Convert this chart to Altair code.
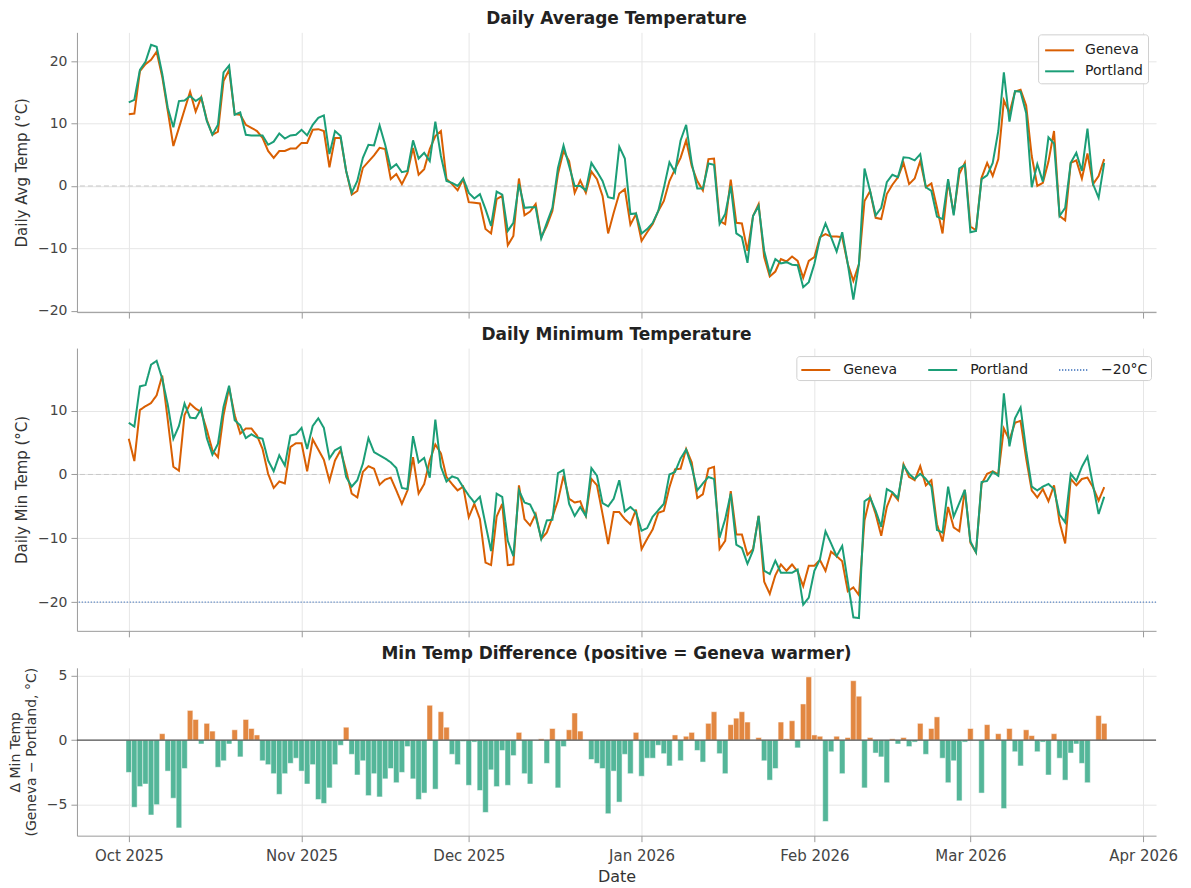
import altair as alt
import pandas as pd

# ---------------- data ----------------
start_date = "2025-10-01"

geneva_avg = [
    11.5, 11.6, 18.4, 19.5, 20.2, 21.5, 17.5, 12.0, 6.4, 9.3,
    12.2, 15.1, 11.9, 14.2, 10.6, 8.2, 8.7, 16.8, 18.6, 11.5,
    11.4, 9.8, 9.3, 8.8, 7.7, 5.6, 4.5, 5.6, 5.6, 6.0,
    6.0, 6.9, 6.9, 9.0, 9.1, 8.8, 3.0, 7.7, 7.7, 2.4,
    -1.4, -0.8, 2.9, 3.9, 4.9, 6.1, 5.9, 1.1, 1.9, 0.3,
    2.1, 6.1, 1.8, 2.7, 5.9, 8.0, 8.8, 1.1, 0.3, -0.7,
    1.1, -2.6, -2.7, -2.8, -6.9, -7.6, -2.1, -1.6, -9.5, -8.0,
    1.2, -4.7, -4.1, -2.9, -8.2, -6.4, -4.0, 1.9, 5.6, 4.0,
    -1.1, 0.9, -1.1, 2.3, 1.1, -1.6, -7.6, -4.3, -1.2, -0.5,
    -6.2, -4.5, -8.8, -7.4, -6.1, -4.0, -2.4, 0.8, 2.7, 4.5,
    7.3, 3.2, 0.8, -0.7, 4.3, 4.4, -5.6, -6.1, 1.0, -5.9,
    -6.0, -10.4, -4.8, -2.9, -11.4, -14.5, -13.7, -11.7, -12.1, -11.3,
    -12.0, -14.7, -12.0, -11.4, -8.2, -7.7, -8.1, -8.1, -8.2, -12.5,
    -15.2, -12.5, -2.4, -0.8, -5.1, -5.3, -1.3, 0.2, 1.4, 3.7,
    0.3, 1.2, 4.0, -0.2, 0.4, -3.5, -7.6, 0.8, -4.4, 1.9,
    3.7, -6.5, -7.1, 1.3, 3.7, 1.6, 4.3, 13.7, 11.7, 15.1,
    15.4, 12.9, 4.8, 0.0, 0.5, 3.9, 8.8, -4.8, -5.5, 3.7,
    4.1, 1.2, 5.2, 0.3, 1.6, 4.3,
]

portland_avg = [
    13.4, 13.8, 18.6, 19.9, 22.6, 22.3, 18.0, 12.5, 9.4, 13.6,
    13.7, 14.4, 13.6, 14.2, 10.4, 8.2, 9.8, 18.2, 19.3, 11.4,
    11.8, 8.2, 8.1, 8.1, 8.1, 6.6, 7.1, 8.4, 7.6, 8.1,
    8.2, 9.0, 8.1, 9.8, 10.9, 11.3, 5.1, 8.8, 8.0, 2.4,
    -1.1, 0.8, 4.5, 6.6, 6.5, 9.7, 6.6, 2.8, 3.5, 2.2,
    2.4, 7.3, 4.4, 5.3, 4.0, 10.3, 4.8, 0.8, 0.5, 0.0,
    1.2, -1.1, -2.0, -1.3, -3.7, -6.4, -0.9, -1.4, -7.2, -5.9,
    0.3, -3.5, -3.4, -3.4, -8.4, -5.9, -3.5, 2.9, 6.5, 3.2,
    0.0, 0.0, -0.7, 3.7, 2.3, 0.8, -1.8, -2.0, 6.3, 4.4,
    -4.5, -4.4, -7.6, -6.9, -5.9, -4.0, -0.3, 3.8, 2.2, 7.3,
    9.8, 3.7, -0.4, -0.4, 3.6, 3.4, -6.1, -4.5, 0.0, -7.6,
    -8.2, -12.3, -4.8, -3.2, -10.4, -14.0, -11.7, -12.4, -12.2, -12.6,
    -12.7, -16.2, -15.4, -12.5, -8.4, -6.0, -8.2, -10.5, -7.4, -12.5,
    -18.2, -12.5, 2.8, -0.8, -4.7, -3.5, 0.6, 1.8, 1.4, 4.6,
    4.5, 4.1, 5.1, -0.2, -0.8, -4.9, -5.3, 1.1, -4.7, 2.8,
    3.4, -7.4, -7.2, 1.1, 1.7, 3.7, 8.8, 18.2, 10.3, 15.2,
    15.1, 11.7, -0.2, 3.5, 0.7, 7.8, 6.8, -4.8, -3.5, 3.7,
    5.3, 2.4, 9.2, 0.3, -1.9, 3.7,
]

geneva_min = [
    5.6, 2.1, 10.1, 10.7, 11.2, 12.4, 15.5, 8.5, 1.2, 0.6,
    9.3, 11.1, 10.3, 9.8, 7.0, 3.8, 2.7, 9.3, 13.6, 9.3,
    6.4, 7.2, 7.2, 6.1, 4.0, 0.1, -2.1, -1.1, -1.4, 4.3,
    4.9, 4.9, 0.5, 5.5, 3.9, 2.3, -1.0, 2.2, 3.8, 0.6,
    -3.0, -3.6, 0.4, 1.3, 0.9, -1.6, -0.8, -0.5, -2.5, -4.6,
    -2.5, 2.7, -3.0, -1.5, 2.2, 4.7, 3.3, -0.4, -1.5, -2.5,
    -1.9, -6.7, -4.6, -7.0, -13.8, -14.2, -6.6, -4.6, -14.2, -14.1,
    -1.7, -7.0, -8.0, -6.2, -10.1, -9.1, -6.7, -4.1, -0.2, -3.8,
    -4.4, -4.2, -6.5, -0.7, -1.7, -6.2, -10.9, -5.9, -5.9, -7.0,
    -7.8, -5.5, -11.7, -10.1, -8.6, -6.0, -5.7, -2.0, 0.8, 0.9,
    4.0, 1.9, -3.7, -3.1, 0.9, 1.2, -11.7, -10.4, -2.6, -9.4,
    -9.4, -12.6, -11.7, -6.5, -16.8, -18.7, -15.8, -14.1, -15.1, -14.1,
    -15.2, -17.5, -14.3, -14.3, -13.4, -15.1, -12.1, -12.8, -13.6, -18.3,
    -17.7, -18.9, -7.2, -3.5, -6.2, -9.6, -5.1, -2.9, -4.0, 1.6,
    -0.4, -0.9, 1.3, -1.7, -0.9, -7.8, -10.5, -5.1, -8.3, -8.9,
    -2.4, -10.7, -12.2, -1.5, 0.1, 0.5, 0.0, 7.2, 5.4, 8.1,
    8.4, 2.5, -2.5, -3.6, -2.3, -4.2, -1.7, -7.5, -10.8, -0.7,
    -1.7, -0.7, -0.5, -2.0, -4.1, -2.0,
]

portland_min = [
    8.1, 7.5, 13.8, 14.0, 17.2, 17.8, 15.0, 10.9, 5.6, 7.6,
    11.1, 8.9, 8.8, 10.3, 5.7, 3.1, 4.8, 10.6, 13.9, 8.5,
    7.7, 5.7, 6.3, 5.8, 5.6, 2.2, 0.5, 3.0, 1.4, 6.1,
    6.3, 7.3, 4.0, 7.6, 8.8, 7.3, 2.5, 3.8, 4.3, -0.4,
    -1.9, -0.9, 1.7, 5.7, 3.5, 3.0, 2.5, 1.9, 1.0, -2.1,
    -2.3, 6.0, 1.9, 2.6, -0.5, 8.6, 1.2, -1.1, -0.3, -0.6,
    -2.0, -3.3, -4.4, -3.5, -7.8, -12.0, -3.0, -3.5, -10.4, -12.8,
    -2.5, -4.4, -4.7, -6.5, -10.1, -7.2, -7.1, 0.2, 0.7, -4.6,
    -6.5, -5.1, -6.5, 1.0, -0.2, -4.5, -5.0, -3.8, -0.9, -5.8,
    -5.1, -5.9, -8.8, -8.4, -6.6, -5.6, -4.6, 0.0, 0.4, 2.5,
    3.9, 1.2, -2.5, -1.4, -0.4, -0.7, -9.9, -7.0, -3.0, -11.0,
    -11.5, -14.0, -11.9, -6.5, -15.1, -15.6, -13.5, -15.4, -15.4, -15.4,
    -14.9, -20.4, -19.3, -15.1, -13.3, -8.9, -10.8, -12.8, -11.2, -16.8,
    -22.4, -22.5, -4.2, -3.6, -5.7, -8.2, -2.3, -2.8, -3.7, 1.4,
    0.1, -0.7, 0.1, -0.7, -1.9, -8.7, -9.1, -1.9, -6.6, -4.5,
    -2.4, -10.5, -12.2, -1.2, -1.0, 0.4, -0.2, 12.7, 4.4, 8.8,
    10.5, 3.8, -1.9, -2.5, -1.9, -1.5, -2.3, -6.3, -7.5, 0.1,
    -1.0, 1.2, 2.8, -1.7, -6.2, -3.5,
]

# Geneva minus Portland daily minimum (bars)
min_diff = [
    -2.5, -5.2, -3.6, -3.4, -5.8, -5.0, 0.5, -2.4, -4.5, -6.8,
    -2.2, 2.3, 1.6, -0.3, 1.3, 0.7, -2.1, -1.6, -0.3, 0.8,
    -1.3, 1.6, 0.9, 0.4, -1.6, -1.9, -2.6, -4.2, -2.6, -1.8,
    -1.4, -2.4, -3.4, -1.9, -4.6, -4.9, -3.7, -1.9, -0.4, 1.0,
    -1.1, -2.7, -1.6, -4.3, -2.6, -4.4, -3.0, -2.2, -3.3, -2.5,
    -0.5, -3.0, -4.6, -4.1, 2.7, -3.8, 2.2, 1.0, -1.1, -1.9,
    -0.1, -3.5, -0.15, -3.9, -5.6, -2.3, -3.6, -0.8, -3.5, -1.2,
    0.6, -2.6, -3.4, 0.0, 0.1, -1.8, 0.9, -3.7, -0.5, 0.8,
    2.1, 0.7, 0.0, -1.5, -1.8, -2.2, -5.7, -2.4, -4.8, -1.1,
    -2.6, 0.6, -2.8, -1.4, -1.4, -0.4, -1.05, -2.0, 0.4, -1.6,
    0.3, 0.6, -0.8, -1.7, 1.3, 2.2, -1.05, -2.6, 1.2, 1.7,
    2.2, 1.4, 0.0, 0.2, -1.6, -3.1, -2.2, 1.4, 0.1, 1.5,
    -0.6, 2.8, 4.9, 0.4, 0.3, -6.3, -0.9, 0.3, -2.6, 0.2,
    4.6, 3.4, -3.7, 0.2, -1.0, -1.3, -3.3, 0.1, -0.3, 0.2,
    -0.5, -0.15, 1.3, -1.1, 0.9, 1.8, -1.4, -3.3, -1.6, -4.7,
    -0.15, 0.9, 0.0, -4.1, 1.2, 0.0, 0.5, -5.3, 0.9, -0.9,
    -2.0, 0.8, 0.35, -0.9, -0.15, -2.7, 0.5, -1.4, -3.1, -1.0,
    -0.3, -1.8, -3.3, 0.0, 1.9, 1.3,
]

cities = ["Geneva", "Portland"]
threshold_label = "\u221220\u00b0C"
threshold_value = -20
month_labels_year_month = [(2025, 10), (2025, 11), (2025, 12), (2026, 1), (2026, 2), (2026, 3), (2026, 4)]

# ---------------- tables ----------------
n = len(geneva_avg)
dates = pd.date_range(start_date, periods=n, freq="D")
fmt = "%Y-%m-%dT%H:%M:%S"
date_str = dates.strftime(fmt).tolist()
bar_start = (dates - pd.Timedelta(hours=12)).strftime(fmt).tolist()
bar_end = (dates + pd.Timedelta(hours=12)).strftime(fmt).tolist()

avg_df = pd.DataFrame({"date": date_str * 2,
                       "city": [cities[0]] * n + [cities[1]] * n,
                       "temp": geneva_avg + portland_avg})
min_df = pd.DataFrame({"date": date_str * 2,
                       "city": [cities[0]] * n + [cities[1]] * n,
                       "temp": geneva_min + portland_min})
diff_df = pd.DataFrame({"start": bar_start, "end": bar_end, "diff": min_diff,
                        "sign": ["pos" if v > 0 else "neg" for v in min_diff]})

ORANGE = "#d95f02"
GREEN = "#1b9e77"
BLUE = "#5a86c5"
W = 1080
FONT = "DejaVu Sans"
LEG_SYMBOL = "M-0.9,0H2"

x_domain = [alt.DateTime(year=2025, month=9, date=21, hours=16, minutes=48),
            alt.DateTime(year=2026, month=4, date=3, hours=7, minutes=12)]
month_ticks = [alt.DateTime(year=y, month=m, date=1) for y, m in month_labels_year_month]


def x_enc(field, labels):
    return alt.X(f"{field}:T",
                 scale=alt.Scale(domain=x_domain, nice=False),
                 axis=alt.Axis(values=month_ticks, format="%b %Y", labels=labels,
                               title="Date" if labels else None, labelFontSize=15,
                               labelPadding=7, titleFontSize=16, titlePadding=5))


def title(text):
    return alt.TitleParams(text, fontSize=17, fontWeight="bold", anchor="middle",
                           offset=4, color="#222222", font=FONT)


# ---------------- top panel ----------------
top_y_scale = alt.Scale(domain=[-20.2, 24.6], nice=False, zero=False)
top_zero = alt.Chart(pd.DataFrame({"temp": [0]})).mark_rule(
    color="#c8c8c8", strokeDash=[5, 3], strokeWidth=1).encode(y=alt.Y("temp:Q", scale=top_y_scale))
top_lines = alt.Chart(avg_df).mark_line(strokeWidth=2).encode(
    x=x_enc("date", False),
    y=alt.Y("temp:Q", scale=top_y_scale,
            axis=alt.Axis(values=[-20, -10, 0, 10, 20], title="Daily Avg Temp (\u00b0C)")),
    color=alt.Color("city:N", scale=alt.Scale(domain=cities, range=[ORANGE, GREEN]),
                    legend=alt.Legend(title=None, orient="none", legendX=962, legendY=2,
                                      symbolType=LEG_SYMBOL, symbolSize=400, symbolStrokeWidth=2,
                                      labelFontSize=14, labelOffset=20, rowPadding=3, padding=5,
                                      strokeColor="#d0d0d0", fillColor="#ffffff",
                                      cornerRadius=3, labelFont=FONT, labelColor="#222222")),
)
top = alt.layer(top_zero, top_lines).properties(width=W, height=280, title=title("Daily Average Temperature"))

# ---------------- middle panel ----------------
mid_y_scale = alt.Scale(domain=[-24.5, 19.8], nice=False, zero=False)
leg_domain = cities + [threshold_label]
mid_color = alt.Color("city:N", scale=alt.Scale(domain=leg_domain, range=[ORANGE, GREEN, BLUE]),
                      legend=alt.Legend(title=None, orient="none", legendX=720, legendY=8,
                                        direction="horizontal", symbolType=LEG_SYMBOL,
                                        symbolSize=400, symbolStrokeWidth=2, labelFontSize=14,
                                        labelOffset=22, columnPadding=27, padding=3,
                                        strokeColor="#d0d0d0", fillColor="#ffffff",
                                        cornerRadius=3, labelFont=FONT, labelColor="#222222"))
mid_dash = alt.StrokeDash("city:N", scale=alt.Scale(domain=leg_domain, range=[[1, 0], [1, 0], [1.2, 1.8]]),
                          legend=alt.Legend(title=None))
mid_zero = alt.Chart(pd.DataFrame({"temp": [0]})).mark_rule(
    color="#c8c8c8", strokeDash=[5, 3], strokeWidth=1).encode(y=alt.Y("temp:Q", scale=mid_y_scale))
mid_thresh = alt.Chart(pd.DataFrame({"temp": [threshold_value], "city": [threshold_label]})).mark_rule(
    strokeWidth=1.2).encode(y=alt.Y("temp:Q", scale=mid_y_scale), color=mid_color, strokeDash=mid_dash)
mid_lines = alt.Chart(min_df).mark_line(strokeWidth=2).encode(
    x=x_enc("date", False),
    y=alt.Y("temp:Q", scale=mid_y_scale,
            axis=alt.Axis(values=[-20, -10, 0, 10], title="Daily Min Temp (\u00b0C)")),
    color=mid_color, strokeDash=mid_dash,
)
mid = alt.layer(mid_zero, mid_thresh, mid_lines).properties(
    width=W, height=283, title=title("Daily Minimum Temperature"))

# ---------------- bottom panel ----------------
bot_y_scale = alt.Scale(domain=[-7.4, 5.6], nice=False, zero=False)
bars = alt.Chart(diff_df).mark_bar(opacity=0.75, stroke="white", strokeWidth=0.5).encode(
    x=x_enc("start", True),
    x2="end:T",
    y=alt.Y("diff:Q", scale=bot_y_scale,
            axis=alt.Axis(values=[-5, 0, 5], titleFontSize=14,
                          title=["\u0394 Min Temp", "(Geneva \u2212 Portland, \u00b0C)"])),
    y2=alt.datum(0),
    color=alt.Color("sign:N", scale=alt.Scale(domain=["pos", "neg"], range=[ORANGE, GREEN]), legend=None),
)
bot_zero = alt.Chart(pd.DataFrame({"diff": [0]})).mark_rule(color="#555555", strokeWidth=1.2).encode(
    y=alt.Y("diff:Q", scale=bot_y_scale))
bottom = alt.layer(bars, bot_zero).properties(
    width=W, height=168, title=title("Min Temp Difference (positive = Geneva warmer)"))

chart = alt.vconcat(top, mid, bottom, spacing=7).resolve_scale(
    color="independent", strokeDash="independent", x="independent", y="independent"
).properties(
    padding={"left": 0, "top": 2, "right": 5, "bottom": 0}
).configure(font=FONT).configure_view(stroke=None).configure_axis(
    domainColor="#9a9a9a", tickColor="#9a9a9a", gridColor="#e6e6e6", gridWidth=1,
    labelFontSize=14, labelColor="#444444", labelFont=FONT, titleFont=FONT,
    titleFontSize=15, titleFontWeight="normal", titleColor="#333333",
    tickSize=6, labelPadding=4, titlePadding=8,
)

chart.save("out.html", embed_options={"renderer": "svg", "actions": False})
